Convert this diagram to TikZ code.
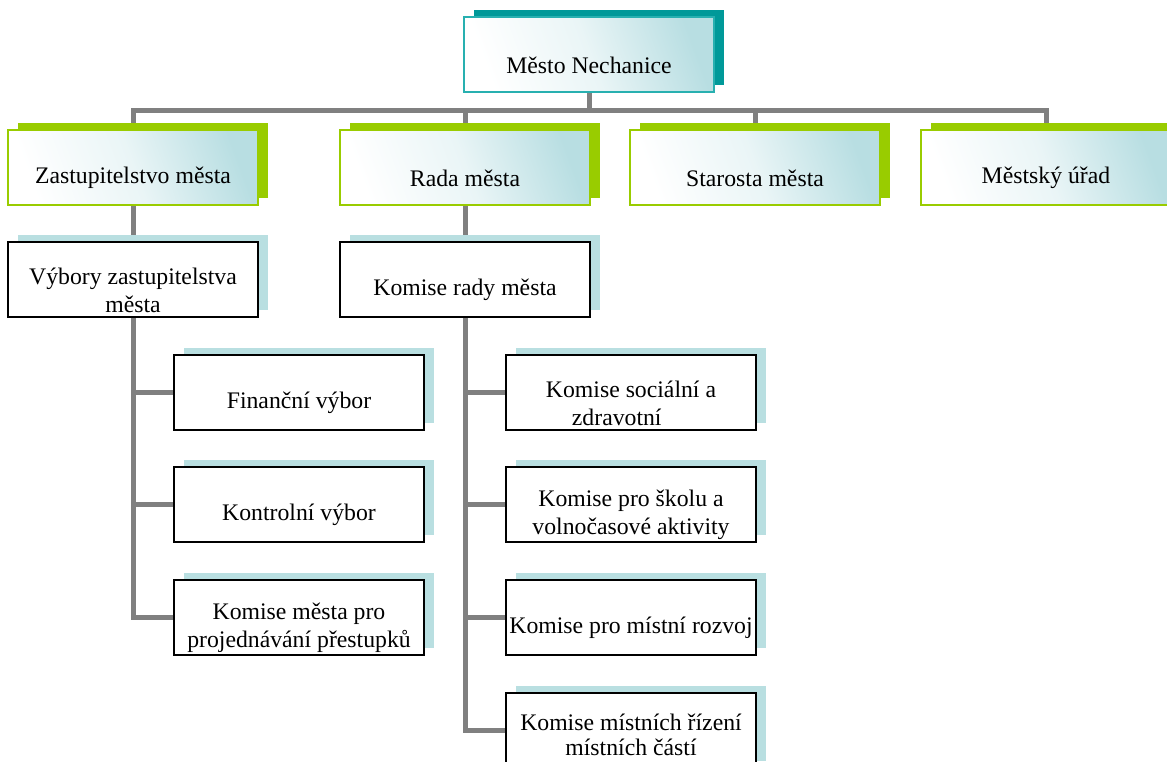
\documentclass[tikz,border=0pt]{standalone}
\usepackage{fontspec}
\setmainfont{Liberation Serif}
\usetikzlibrary{positioning,calc,backgrounds}

\definecolor{tealdark}{RGB}{0,153,153}
\definecolor{tealline}{RGB}{40,176,176}
\definecolor{leafgreen}{RGB}{153,204,0}
\definecolor{paleblue}{RGB}{184,222,226}
\definecolor{shadowblue}{RGB}{185,223,225}
\definecolor{linkgray}{RGB}{128,128,128}

\tikzset{
  boxbase/.style={rectangle, inner sep=0pt, outer sep=0pt, minimum width=187.5pt, minimum height=56.25pt},
  shadedbox/.style={boxbase, top color=paleblue, bottom color=white, middle color=paleblue!30, shading angle=-70},
  toplevel/.style={shadedbox, draw=tealline, line width=1.5pt},
  firstlevel/.style={shadedbox, draw=leafgreen, line width=2pt},
  plainbox/.style={boxbase, draw=black, fill=white, line width=1.2pt},
  boxtext/.style={align=center, inner sep=0pt, font=\fontsize{17.8pt}{21pt}\selectfont},
  link/.style={draw=linkgray, line width=3.75pt}
}

\begin{document}
\begin{tikzpicture}[x=0.75pt, y=-0.75pt]

  \useasboundingbox (0,0) rectangle (1167,762);

  % one box: [text drop], name, top-left corner, look, shadow colour, text
  \newcommand{\orgbox}[6][-8pt]{%
    \fill[#5] (#3) ++(10,-7) rectangle ++(250,75);
    \node[#4, anchor=north west] (#2) at (#3) {};
    \node[boxtext] (#2-txt) at ([yshift=#1]#2.center) {#6};
  }

  % top
  \orgbox{top}{464,17}{toplevel}{tealdark}{Město Nechanice}

  % first level
  \orgbox{zast}{8,130}{firstlevel}{leafgreen}{Zastupitelstvo města}
  \orgbox{rada}{340,130}{firstlevel}{leafgreen}{Rada města}
  \orgbox{star}{630,130}{firstlevel}{leafgreen}{Starosta města}
  \orgbox{urad}{921,130}{firstlevel}{leafgreen}{Městský úřad}

  % second level
  \orgbox{vybory}{8,242}{plainbox}{shadowblue}{Výbory zastupitelstva\\města}
  \orgbox{krm}{340,242}{plainbox}{shadowblue}{Komise rady města}

  % committees of the council
  \orgbox{fin}{174,355}{plainbox}{shadowblue}{Finanční výbor}
  \orgbox{kontr}{174,467}{plainbox}{shadowblue}{Kontrolní výbor}
  \orgbox{prest}{174,580}{plainbox}{shadowblue}{Komise města pro\\projednávání přestupků}

  % commissions of the board
  \orgbox{soc}{506,355}{plainbox}{shadowblue}{Komise sociální a\\zdravotní\hspace*{1.2em}}
  \orgbox{skola}{506,467}{plainbox}{shadowblue}{Komise pro školu a\\volnočasové aktivity}
  \orgbox{rozvoj}{506,580}{plainbox}{shadowblue}{Komise pro místní rozvoj}
  \orgbox[-3.5pt]{mistni}{506,693}{plainbox}{shadowblue}{Komise místních řízení\\[-2pt]místních částí}

  \coordinate (bar) at (0,111);

  % connectors
  \begin{scope}[on background layer]
    \draw[link] (top.south) -- (top.south |- bar);
    \draw[link] (zast.north) |- (urad.north |- bar) -- (urad.north);
    \draw[link] (rada.north) -- (rada.north |- bar);
    \draw[link] (star.north) -- (star.north |- bar);
    \draw[link] (zast.south) -- (vybory.north);
    \draw[link] (rada.south) -- (krm.north);
    \draw[link] (vybory.south) |- (prest.west);
    \foreach \b in {fin,kontr}
      \draw[link] (vybory.south |- \b.west) -- (\b.west);
    \draw[link] (krm.south) |- (mistni.west);
    \foreach \b in {soc,skola,rozvoj}
      \draw[link] (krm.south |- \b.west) -- (\b.west);
  \end{scope}

\end{tikzpicture}
\end{document}
